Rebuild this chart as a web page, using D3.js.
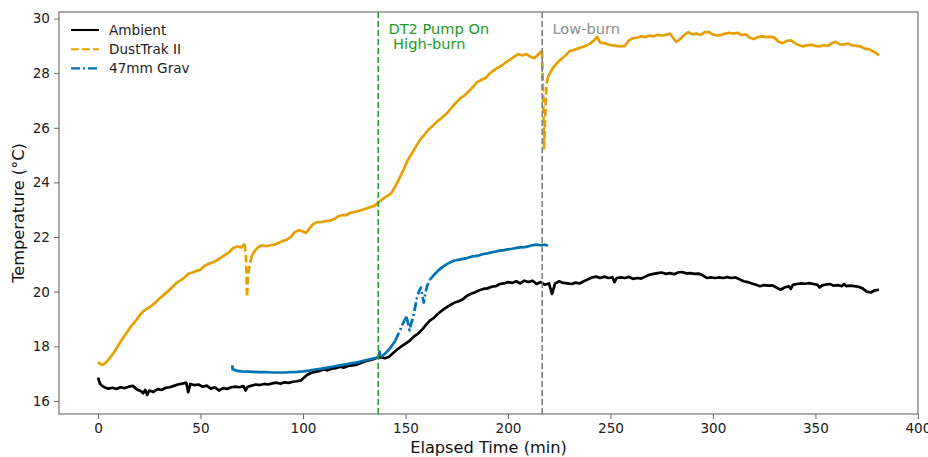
<!DOCTYPE html>
<html>
<head>
<meta charset="utf-8">
<script src="https://cdn.jsdelivr.net/npm/d3@7"></script>
<style>
  html, body { margin: 0; padding: 0; background: #fff; }
  svg { display: block; font-family: "DejaVu Sans", sans-serif; }
</style>
</head>
<body>
<svg id="chart" width="928" height="457"></svg>
<script>
// Elapsed time (min) and temperature (°C) for each sensor
const ambientTime = [0,1,2,3,5,7,9,11,13,15,17,19,21,22,23,24,25,27,29,31,33,35,37,39,41,43,44,45,47,49,51,53,55,57,59,61,63,65,67,69,71,72,73,75,77,79,81,83,85,87,89,91,93,95,97,99,100,102,104,106,108,110,112,114,116,118,120,122,124,126,128,130,132,134,136,138,140,142,144,146,148,150,152,154,156,158,160,162,164,166,168,170,172,174,176,178,180,182,184,186,188,190,192,194,196,198,200,202,204,206,208,210,212,214,216,218,220,221.5,223,225,227,229,231,233,235,237,239,241,243,245,247,249,251,252,253,255,257,259,261,263,265,267,269,271,273,275,277,279,281,283,285,287,289,291,293,295,297,299,301,303,305,307,309,311,313,315,317,319,321,323,325,327,329,331,333,335,337,338,339,341,343,345,347,349,351,352,353,355,357,359,361,363,364,365,367,369,371,373,375,377,379,381];
const ambientTemp = [16.85,16.62,16.55,16.5,16.45,16.48,16.44,16.5,16.47,16.52,16.55,16.42,16.35,16.28,16.4,16.22,16.38,16.33,16.43,16.4,16.48,16.5,16.55,16.6,16.63,16.67,16.32,16.62,16.58,16.6,16.52,16.56,16.45,16.5,16.38,16.47,16.44,16.5,16.52,16.5,16.54,16.38,16.52,16.56,16.6,16.58,16.62,16.6,16.64,16.67,16.63,16.68,16.66,16.7,16.72,16.75,16.82,16.95,17.03,17.06,17.1,17.15,17.12,17.18,17.2,17.25,17.22,17.28,17.3,17.32,17.38,17.44,17.48,17.52,17.58,17.6,17.56,17.62,17.75,17.88,18.0,18.1,18.2,18.35,18.45,18.6,18.78,18.95,19.05,19.2,19.32,19.42,19.52,19.6,19.65,19.72,19.85,19.92,19.98,20.05,20.1,20.12,20.18,20.2,20.28,20.3,20.35,20.32,20.38,20.3,20.4,20.35,20.4,20.28,20.35,20.25,20.3,19.92,20.3,20.38,20.32,20.3,20.28,20.33,20.3,20.38,20.45,20.52,20.55,20.5,20.55,20.5,20.52,20.35,20.5,20.52,20.5,20.54,20.47,20.5,20.48,20.55,20.62,20.65,20.68,20.7,20.65,20.68,20.64,20.7,20.72,20.67,20.68,20.65,20.66,20.6,20.5,20.52,20.5,20.52,20.5,20.53,20.5,20.52,20.45,20.38,20.35,20.3,20.25,20.2,20.24,20.22,20.23,20.15,20.07,20.15,20.2,20.1,20.25,20.28,20.3,20.29,20.31,20.28,20.25,20.15,20.22,20.26,20.28,20.22,20.24,20.2,20.28,20.2,20.22,20.2,20.18,20.12,20.0,19.97,20.05,20.07];

const dustTime = [0,1,2,3,4,5,6,7,8,9,10,12,14,16,18,20,22,24,26,28,30,32,34,36,38,40,42,44,46,48,50,52,54,56,58,60,62,64,66,68,70,71.5,72.2,72.7,73.2,74,75,76,78,80,82,84,86,88,90,92,94,96,98,100,101.5,103,105,107,109,111,113,115,117,119,121,123,125,127,129,131,133,135,137,139,141,143,145,147,149,151,153,155,157,159,161,163,165,167,169,171,173,175,177,179,181,183,185,187,189,191,193,195,197,199,201,203,205,207,209,211,213,215,216.6,217.2,217.6,218.2,218.8,219.5,220.8,222,224,226,228,230,232,234,236,238,240,242,243.5,245,247,249,251,253,255,257,259,261,263,265,267,269,271,273,275,277,279,280,282,284,286,288,290,292,294,296,298,300,302,304,306,308,310,312,314,316,318,320,322,324,326,328,330,332,334,336,338,340,342,344,346,348,350,352,354,356,358,360,362,364,366,368,370,372,374,376,378,380,381];
const dustTemp = [17.42,17.35,17.32,17.35,17.42,17.5,17.6,17.7,17.8,17.93,18.05,18.28,18.5,18.72,18.9,19.1,19.28,19.38,19.48,19.6,19.75,19.88,20.0,20.15,20.3,20.4,20.5,20.65,20.7,20.76,20.8,20.95,21.02,21.08,21.15,21.25,21.35,21.45,21.6,21.65,21.62,21.75,21.2,19.8,20.6,21.0,21.3,21.45,21.62,21.7,21.66,21.7,21.72,21.78,21.85,21.9,22.0,22.18,22.25,22.2,22.15,22.3,22.48,22.55,22.55,22.58,22.6,22.65,22.75,22.8,22.8,22.88,22.92,22.95,23.0,23.05,23.1,23.15,23.28,23.4,23.5,23.6,23.85,24.15,24.45,24.8,25.05,25.3,25.55,25.72,25.92,26.05,26.2,26.32,26.45,26.6,26.78,26.95,27.1,27.2,27.35,27.5,27.68,27.75,27.82,27.98,28.1,28.2,28.28,28.4,28.5,28.6,28.7,28.65,28.7,28.6,28.55,28.7,28.82,27.0,25.2,26.5,27.6,27.85,28.05,28.2,28.38,28.52,28.65,28.8,28.85,28.9,28.95,29.0,29.08,29.2,29.33,29.12,29.1,29.05,29.02,29.0,28.98,29.0,29.2,29.28,29.3,29.35,29.32,29.38,29.35,29.4,29.38,29.4,29.45,29.35,29.15,29.25,29.4,29.5,29.42,29.45,29.4,29.5,29.5,29.42,29.38,29.4,29.45,29.48,29.45,29.48,29.4,29.42,29.3,29.25,29.32,29.35,29.32,29.34,29.3,29.15,29.1,29.18,29.2,29.1,29.02,28.98,29.02,29.04,29.0,28.98,29.02,29.0,29.1,29.15,29.05,29.05,29.08,29.02,29.0,28.98,28.9,28.88,28.8,28.72,28.65];

const gravTime = [65.5,65.7,66,68,70,73,76,79,82,85,88,91,94,97,100,103,106,109,112,115,118,121,124,127,130,133,136,137,137.4,137.8,139,141,143,145,146.5,148,149.5,150.5,151.2,152,152.8,153.5,154.5,155.5,156.5,157.5,158.3,158.9,159.6,160.5,162,164,166,168,170,172,174,176,178,180,182,184,186,188,190,192,194,196,198,200,202,204,206,208,210,212,214,216,218,219.5];
const gravTemp = [17.3,17.12,17.15,17.1,17.08,17.07,17.06,17.05,17.05,17.04,17.04,17.04,17.05,17.06,17.08,17.11,17.15,17.18,17.22,17.26,17.3,17.34,17.38,17.42,17.48,17.53,17.58,17.62,17.8,17.6,17.66,17.8,17.98,18.2,18.45,18.7,18.95,19.08,18.85,18.58,18.85,19.0,19.35,19.75,20.0,20.15,19.85,19.6,19.9,20.2,20.45,20.62,20.78,20.9,21.0,21.08,21.14,21.17,21.2,21.23,21.28,21.3,21.33,21.38,21.4,21.44,21.47,21.5,21.52,21.55,21.57,21.6,21.62,21.63,21.66,21.7,21.72,21.7,21.72,21.68];

const seriesNames = ["Ambient", "DustTrak II", "47mm Grav"];
const xTicks = [0, 50, 100, 150, 200, 250, 300, 350, 400];
const yTicks = [16, 18, 20, 22, 24, 26, 28, 30];
const pumpOnTime = 136.7;
const lowBurnTime = 216.7;

// ---- layout and styles ----
const svg = d3.select("#chart");
const plot = { left: 59, right: 918, top: 12, bottom: 414 };
const x = d3.scaleLinear().domain([-19.05, 400.05]).range([plot.left, plot.right]);
const y = d3.scaleLinear().domain([15.52, 30.24]).range([plot.bottom, plot.top]);

const styles = [
  { color: "#000000", dash: null, steep: Infinity },
  { color: "#E69F00", dash: "7.7,3.3", steep: 3 },
  { color: "#0072B2", dash: "9,3,2,3", steep: 1.8 }
];
const series = [
  d3.zip(ambientTime, ambientTemp),
  d3.zip(dustTime, dustTemp),
  d3.zip(gravTime, gravTemp)
];

const line = d3.line().x(d => x(d[0])).y(d => y(d[1]));

// Dense, noisy records read as solid where the trace is flat; the dash
// pattern only shows on steep runs, so draw those runs dashed.
function runs(pts, ratio) {
  const out = [];
  let cur = null;
  for (let i = 1; i < pts.length; i++) {
    const dx = Math.abs(x(pts[i][0]) - x(pts[i - 1][0]));
    const dy = Math.abs(y(pts[i][1]) - y(pts[i - 1][1]));
    const steep = dy > dx * ratio;
    if (!cur || cur.steep !== steep) {
      cur = { steep, pts: [pts[i - 1]] };
      out.push(cur);
    }
    cur.pts.push(pts[i]);
  }
  return out;
}

const dataG = svg.append("g");
series.forEach((pts, i) => {
  const st = styles[i];
  runs(pts, st.steep).forEach(r => {
    dataG.append("path")
      .attr("d", line(r.pts))
      .attr("fill", "none")
      .attr("stroke", st.color)
      .attr("stroke-width", 2.7)
      .attr("stroke-linejoin", "round")
      .attr("stroke-dasharray", r.steep && st.dash ? st.dash : null);
  });
});

// event markers
svg.append("line")
  .attr("x1", x(pumpOnTime)).attr("x2", x(pumpOnTime))
  .attr("y1", plot.top).attr("y2", plot.bottom)
  .attr("stroke", "#2ca02c").attr("stroke-width", 1.6)
  .attr("stroke-dasharray", "6,3");
svg.append("line")
  .attr("x1", x(lowBurnTime)).attr("x2", x(lowBurnTime))
  .attr("y1", plot.top).attr("y2", plot.bottom)
  .attr("stroke", "#808080").attr("stroke-width", 1.6)
  .attr("stroke-dasharray", "6,3");

const pumpText = svg.append("text")
  .attr("x", x(pumpOnTime + 5)).attr("y", 34)
  .attr("fill", "#1f9a1f").attr("font-size", 14.6);
pumpText.append("tspan").attr("x", x(pumpOnTime + 5)).text("DT2 Pump On");
pumpText.append("tspan").attr("x", x(pumpOnTime + 5)).attr("dy", 15.4)
  .attr("xml:space", "preserve").style("white-space", "pre").text(" High-burn");

svg.append("text")
  .attr("x", x(lowBurnTime + 5)).attr("y", 34)
  .attr("fill", "#8c8c8c").attr("font-size", 14.6)
  .text("Low-burn");

// axes
const xAxis = svg.append("g")
  .attr("transform", `translate(0,${plot.bottom})`)
  .call(d3.axisBottom(x).tickValues(xTicks).tickFormat(d3.format("d")).tickSize(5).tickPadding(4));
const yAxis = svg.append("g")
  .attr("transform", `translate(${plot.left},0)`)
  .call(d3.axisLeft(y).tickValues(yTicks).tickFormat(d3.format("d")).tickSize(5).tickPadding(4));
[xAxis, yAxis].forEach(g => {
  g.select(".domain").remove();
  g.selectAll(".tick line").attr("stroke", "#666").attr("stroke-width", 1);
  g.selectAll(".tick text").attr("fill", "#222").attr("font-size", 13.6)
    .attr("font-family", "DejaVu Sans, sans-serif");
});

svg.append("rect")
  .attr("x", plot.left).attr("y", plot.top)
  .attr("width", plot.right - plot.left).attr("height", plot.bottom - plot.top)
  .attr("fill", "none").attr("stroke", "#666").attr("stroke-width", 1.1);

svg.append("text")
  .attr("x", (plot.left + plot.right) / 2).attr("y", 453)
  .attr("text-anchor", "middle").attr("font-size", 16.2).attr("fill", "#111")
  .text("Elapsed Time (min)");
svg.append("text")
  .attr("transform", `translate(24,${(plot.top + plot.bottom) / 2}) rotate(-90)`)
  .attr("text-anchor", "middle").attr("font-size", 16.2).attr("fill", "#111")
  .text("Temperature (°C)");

// legend
const legend = svg.append("g").attr("transform", "translate(71,30)");
seriesNames.forEach((name, i) => {
  const row = legend.append("g").attr("transform", `translate(0,${i * 19.2})`);
  row.append("line")
    .attr("x1", 0).attr("x2", 28).attr("y1", 0).attr("y2", 0)
    .attr("stroke", styles[i].color).attr("stroke-width", 2.1)
    .attr("stroke-dasharray", styles[i].dash);
  row.append("text")
    .attr("x", 38).attr("y", 0).attr("dy", "0.35em")
    .attr("font-size", 13.6).attr("fill", "#222")
    .text(name);
});
</script>
</body>
</html>
